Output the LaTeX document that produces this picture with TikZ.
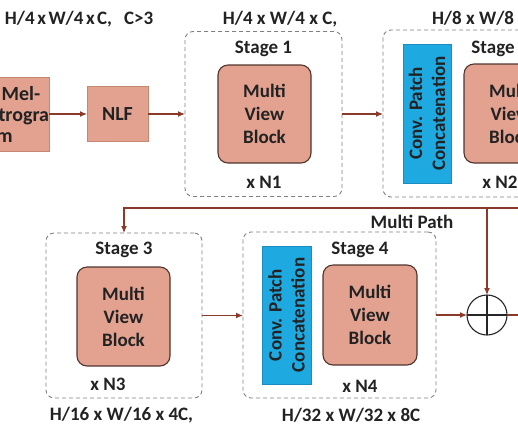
\documentclass[tikz,border=0pt]{standalone}
\usepackage{fontspec}
\setmainfont{Carlito}
\usetikzlibrary{arrows.meta}
\definecolor{salmon}{HTML}{E3A190}
\definecolor{mvbborder}{HTML}{50352F}
\definecolor{lightborder}{HTML}{C58770}
\definecolor{convblue}{HTML}{1EA9E1}
\definecolor{convborder}{HTML}{1A8CC0}
\definecolor{dashgray}{HTML}{808080}
\definecolor{arrowred}{HTML}{8B3A2A}
\definecolor{txt}{HTML}{222222}
\begin{document}
\begin{tikzpicture}[x=1pt,y=-1pt,
  lbl/.style={font=\fontsize{19}{23}\selectfont\bfseries, text=txt, inner sep=0pt, outer sep=0pt},
  bigtxt/.style={font=\fontsize{20}{21}\selectfont\bfseries, text=txt},
  plainbox/.style={draw=lightborder, fill=salmon, line width=0.9pt, inner sep=0pt, outer sep=0pt, align=center, bigtxt},
  mvb/.style={draw=mvbborder, fill=salmon, line width=1.1pt, rounded corners=10pt, inner sep=0pt, outer sep=0pt, align=center, lbl},
  stagebox/.style={draw=dashgray, dash pattern=on 4pt off 3pt, line width=0.9pt, rounded corners=8pt, inner sep=0pt, outer sep=0pt},
  convbox/.style={draw=convborder, fill=convblue, line width=0.6pt, inner sep=0pt, outer sep=0pt},
  convtxt/.style={lbl, align=center, rotate=90},
  arr/.style={draw=arrowred, line width=1.2pt, -{Latex[length=7pt,width=6pt]}},
  plainline/.style={draw=arrowred, line width=1.2pt},
  sumnode/.style={circle, draw=black!85, line width=1.1pt, minimum size=40pt, inner sep=0pt, outer sep=0pt}
]
\useasboundingbox (0,0) rectangle (518,432);
\clip (0,0) rectangle (518,432);

% top labels
\node[lbl, anchor=base west] (top1) at (5,24) {\spaceskip=2.5pt H/4 x W/4 x C,\hspace{12pt}C>3};
\node[lbl, anchor=base] (top2) at (280,24) {H/4 x W/4 x C,};
\node[lbl, anchor=base west] (top3) at (432,24) {H/8 x W/8 x 2C,};

% input boxes
\node[plainbox, minimum width=89pt, minimum height=74pt] (mel) at (4.5,114) {Log Mel-\\Spectrogra\\m};
\node[plainbox, minimum width=61pt, minimum height=55pt] (nlf) at (117.5,114) {NLF};

% stage 1
\node[stagebox, minimum width=157pt, minimum height=165pt] (s1) at (263.5,114) {};
\node[mvb, minimum width=93pt, minimum height=98pt] (m1) at (264.5,114) {Multi\\View\\Block};
\node[lbl, anchor=base] (t1) at (263.5,53) {Stage 1};
\node[lbl, anchor=base] (n1) at (264,188) {x N1};

% stage 2
\node[stagebox, minimum width=193pt, minimum height=167pt] (s2) at (479.5,113.5) {};
\node[convbox, minimum width=48pt, minimum height=139pt] (c2) at (427,113.5) {};
\node[convtxt] (c2t) at (427,113.5) {Conv. Patch\\Concatenation};
\node[mvb, minimum width=93pt, minimum height=99pt] (m2) at (510.5,113.5) {Multi\\View\\Block};
\node[lbl, anchor=base] (t2) at (500,53) {Stage 2};
\node[lbl, anchor=base] (n2) at (500,188) {x N2};

% stage 3
\node[stagebox, minimum width=156pt, minimum height=165pt] (s3) at (124,315.5) {};
\node[mvb, minimum width=93pt, minimum height=99pt] (m3) at (123.5,316.5) {Multi\\View\\Block};
\node[lbl, anchor=base] (t3) at (124,254) {Stage 3};
\node[lbl, anchor=base] (n3) at (108,390) {x N3};
\node[lbl, anchor=base] (b3) at (121.5,420) {H/16 x W/16 x 4C,};

% stage 4
\node[stagebox, minimum width=193pt, minimum height=166pt] (s4) at (339.5,315) {};
\node[convbox, minimum width=49pt, minimum height=138pt] (c4) at (286.5,315) {};
\node[convtxt] (c4t) at (286.5,315) {Conv. Patch\\Concatenation};
\node[mvb, minimum width=94pt, minimum height=100pt] (m4) at (370,315) {Multi\\View\\Block};
\node[lbl, anchor=base] (t4) at (360,254) {Stage 4};
\node[lbl, anchor=base] (n4) at (360,392) {x N4};
\node[lbl, anchor=base] (b4) at (351,421) {H/32 x W/32 x 8C};

\node[lbl, anchor=base] (mp) at (412,228) {Multi Path};

% sum node
\node[sumnode] (sum) at (487,315) {};
\draw[black!85, line width=1.1pt] (sum.north) -- (sum.south) (sum.west) -- (sum.east);

% connectors
\draw[arr] (mel.east) -- (nlf.west);
\draw[arr] (nlf.east) -- (s1.west);
\draw[arr] (s1.east) -- (s1.east -| s2.west);
\coordinate (pathR) at (530,208);
\coordinate (pathJ) at (487,208);
\draw[arr] (pathR) -| (s3.north);
\draw[arr] (pathJ) -- (sum.north);
\draw[arr] (s3.east) -- (s3.east -| s4.west);
\draw[arr] (s4.east) -- (sum.west);
\coordinate (outR) at (530,315);
\draw[plainline] (sum.east) -- (outR);
\end{tikzpicture}
\end{document}
